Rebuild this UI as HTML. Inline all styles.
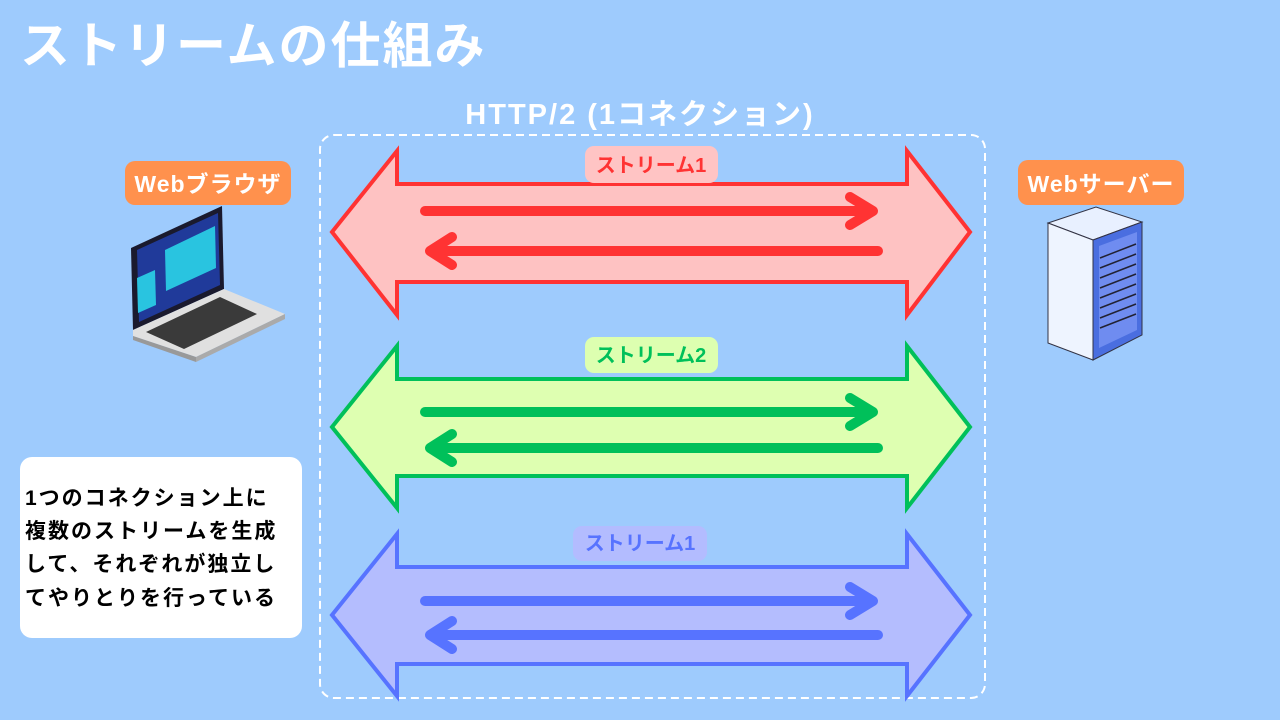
<!DOCTYPE html>
<html><head><meta charset="utf-8"><style>
body{margin:0;width:1280px;height:720px;background:#9ecbfd;overflow:hidden;font-family:"Liberation Sans","Noto Sans CJK JP",sans-serif;}
</style></head><body>
<svg width="1280" height="720" viewBox="0 0 1280 720" xmlns="http://www.w3.org/2000/svg" style="position:absolute;left:0;top:0;font-family:'Liberation Sans','Noto Sans CJK JP',sans-serif">
<text x="20" y="63" font-size="50" font-weight="bold" fill="#fff" letter-spacing="2">ストリームの仕組み</text>
<text x="640" y="124" font-size="29" font-weight="bold" fill="#fff" text-anchor="middle" letter-spacing="2">HTTP/2 (1コネクション)</text>
<rect x="320" y="135" width="665" height="563" rx="14" fill="none" stroke="#fff" stroke-width="2" stroke-dasharray="8,5"/>

<g stroke-width="4" stroke-linejoin="miter">
<polygon points="332,232 397,151 397,184 907,184 907,151 970,232 907,315 907,282 397,282 397,315" fill="#fec2c2" stroke="#ff3333"/>
<polygon points="332,427 397,346 397,379 907,379 907,346 970,427 907,508 907,476 397,476 397,508" fill="#deffb1" stroke="#00c05a"/>
<polygon points="332,615 397,534 397,567 907,567 907,534 970,615 907,696 907,664 397,664 397,696" fill="#b4bdfe" stroke="#5773ff"/>
</g>
<g fill="none" stroke-width="10" stroke-linecap="round" stroke-linejoin="round">
<g stroke="#ff3333"><path d="M425 211H873M850 197L873 211L850 225"/><path d="M878 251H430M452 237L430 251L452 265"/></g>
<g stroke="#00c05a"><path d="M425 412H873M850 398L873 412L850 426"/><path d="M878 448H430M452 434L430 448L452 462"/></g>
<g stroke="#5773ff"><path d="M425 601H873M850 587L873 601L850 615"/><path d="M878 635H430M452 621L430 635L452 649"/></g>
</g>
<rect x="585" y="146" width="133" height="37" rx="9" fill="#ffc4c4"/>
<text x="651" y="172" font-size="20" font-weight="bold" fill="#ff3333" text-anchor="middle">ストリーム1</text>
<rect x="585" y="337" width="133" height="36" rx="9" fill="#ddffb0"/>
<text x="651" y="362" font-size="20" font-weight="bold" fill="#00c05a" text-anchor="middle">ストリーム2</text>
<rect x="573" y="526" width="134" height="35" rx="9" fill="#b3bcff"/>
<text x="640" y="550" font-size="20" font-weight="bold" fill="#5773ff" text-anchor="middle">ストリーム1</text>

<rect x="125" y="161" width="166" height="44" rx="10" fill="#ff914d"/>
<text x="208" y="192" font-size="23" font-weight="bold" fill="#fff" text-anchor="middle" letter-spacing="1">Webブラウザ</text>
<rect x="1018" y="160" width="166" height="45" rx="10" fill="#ff914d"/>
<text x="1101" y="192" font-size="23" font-weight="bold" fill="#fff" text-anchor="middle" letter-spacing="1">Webサーバー</text>

<!-- laptop -->
<polygon points="131,248 222,206 224,289 133,330" fill="#1a1a2e"/>
<polygon points="137,250 218,213 220,285 139,322" fill="#203a9a"/>
<polygon points="165,250 215,226 216,268 166,291" fill="#29c4e0"/>
<polygon points="137,278 155,270 156,305 138,313" fill="#29c4e0"/>
<polygon points="133,330 224,289 285,314 196,357 133,336" fill="#e0e0e0"/>
<polygon points="146,332 220,297 257,314 184,349" fill="#3a3a3a"/>
<polygon points="133,336 196,357 196,362 133,340" fill="#999"/>
<polygon points="196,357 285,314 285,319 196,362" fill="#aaa"/>

<!-- server -->
<polygon points="1048,223 1096,207 1142,222 1093,240" fill="#e8f0ff" stroke="#334" stroke-width="1"/>
<polygon points="1048,223 1093,240 1093,360 1048,343" fill="#eef4ff" stroke="#334" stroke-width="1"/>
<polygon points="1093,240 1142,222 1142,335 1093,360" fill="#4a6ee0" stroke="#334" stroke-width="1"/>
<polygon points="1099,246 1137,232 1137,330 1099,348" fill="#6f8cf0"/>
<g stroke="#223" stroke-width="1.5"><path d="M1100 258L1136 244M1100 268L1136 254M1100 278L1136 264M1100 288L1136 274M1100 298L1136 284M1100 308L1136 294M1100 318L1136 304M1100 328L1136 314"/></g>

<rect x="20" y="457" width="282" height="181" rx="12" fill="#fff"/>
<g font-size="21" font-weight="bold" fill="#000" letter-spacing="2">
<text x="25" y="505">1つのコネクション上に</text>
<text x="25" y="538">複数のストリームを生成</text>
<text x="25" y="571">して、それぞれが独立し</text>
<text x="25" y="605">てやりとりを行っている</text>
</g>
</svg>
</body></html>
